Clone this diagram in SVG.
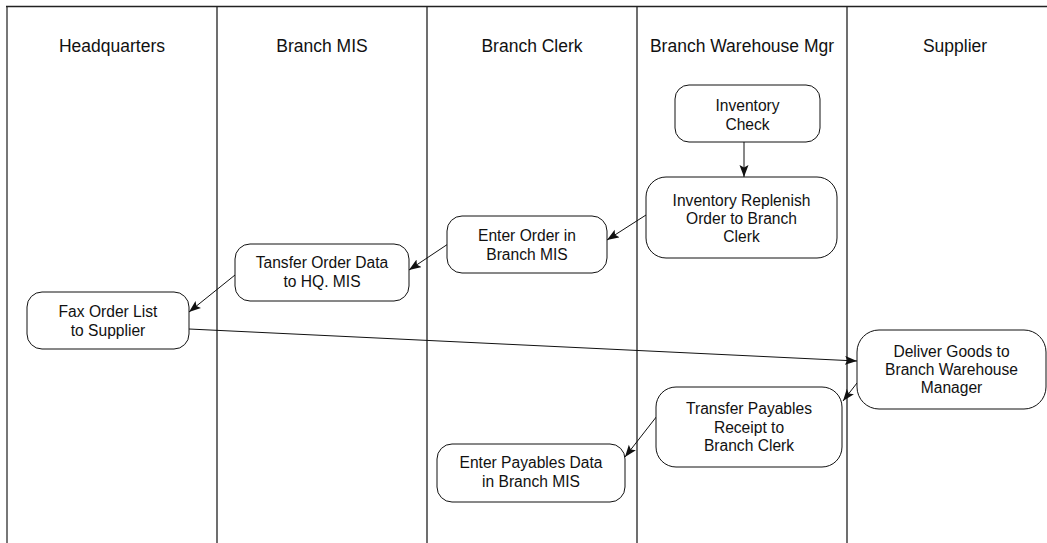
<svg xmlns="http://www.w3.org/2000/svg" width="1047" height="543" viewBox="0 0 1047 543">
  <style>
    .lane { stroke: #222; stroke-width: 1.3; fill: none; }
    .edge-left { stroke: #777; stroke-width: 2; fill: none; }
    .hdr { font-family: "Liberation Sans", Arial, sans-serif; font-size: 17.5px; fill: #111; text-anchor: middle; }
    .box { fill: #fff; stroke: #111; stroke-width: 1; }
    .lbl { font-family: "Liberation Sans", Arial, sans-serif; font-size: 15.6px; fill: #111; text-anchor: middle; }
    .edge { stroke: #111; stroke-width: 1; fill: none; marker-end: url(#arrow); }
  </style>
  <defs>
    <marker id="arrow" markerUnits="userSpaceOnUse" markerWidth="13" markerHeight="10" refX="12" refY="4.5" orient="auto">
      <path d="M0,0 L12,4.5 L0,9 L2.5,4.5 z" fill="#111"/>
    </marker>
  </defs>
  <rect width="1047" height="543" fill="#fff"/>

  <!-- swimlanes -->
  <g id="lanes">
    <path class="edge-left" d="M7,543 V6"/>
    <path class="lane" d="M6,6.5 H1047"/>
    <path class="lane" d="M217,6.5 V543 M427,6.5 V543 M637,6.5 V543 M847,6.5 V543"/>
    <text class="hdr" x="112" y="52">Headquarters</text>
    <text class="hdr" x="322" y="52">Branch MIS</text>
    <text class="hdr" x="532" y="52">Branch Clerk</text>
    <text class="hdr" x="742" y="52">Branch Warehouse Mgr</text>
    <text class="hdr" x="955" y="52">Supplier</text>
  </g>

  <!-- connectors -->
  <g id="connectors">
    <line class="edge" x1="744" y1="142" x2="744" y2="177"/>
    <line class="edge" x1="646" y1="215" x2="607" y2="240"/>
    <line class="edge" x1="448" y1="244" x2="409" y2="270"/>
    <line class="edge" x1="235" y1="275" x2="189" y2="312"/>
    <line class="edge" x1="189" y1="329" x2="857" y2="361"/>
    <line class="edge" x1="857" y1="383" x2="843" y2="401"/>
    <line class="edge" x1="657" y1="416" x2="625" y2="457"/>
  </g>

  <!-- process steps -->
  <g id="inventory-check">
    <rect class="box" x="675" y="85" width="145" height="57" rx="14"/>
    <text class="lbl" x="747.5" y="111">Inventory</text>
    <text class="lbl" x="747.5" y="129.5">Check</text>
  </g>
  <g id="replenish-order">
    <rect class="box" x="646" y="177" width="191" height="81" rx="20"/>
    <text class="lbl" x="741.5" y="205.7">Inventory Replenish</text>
    <text class="lbl" x="741.5" y="224">Order to Branch</text>
    <text class="lbl" x="741.5" y="242.3">Clerk</text>
  </g>
  <g id="enter-order">
    <rect class="box" x="447" y="216" width="160" height="57" rx="15"/>
    <text class="lbl" x="527" y="241">Enter Order in</text>
    <text class="lbl" x="527" y="260">Branch MIS</text>
  </g>
  <g id="transfer-order">
    <rect class="box" x="235" y="244" width="174" height="57" rx="15"/>
    <text class="lbl" x="322" y="268">Tansfer Order Data</text>
    <text class="lbl" x="322" y="287">to HQ. MIS</text>
  </g>
  <g id="fax-order">
    <rect class="box" x="27" y="292" width="162" height="57" rx="15"/>
    <text class="lbl" x="108" y="317">Fax Order List</text>
    <text class="lbl" x="108" y="336">to Supplier</text>
  </g>
  <g id="deliver-goods">
    <rect class="box" x="857" y="330" width="189" height="79" rx="22"/>
    <text class="lbl" x="951.5" y="357">Deliver Goods to</text>
    <text class="lbl" x="951.5" y="375">Branch Warehouse</text>
    <text class="lbl" x="951.5" y="393">Manager</text>
  </g>
  <g id="transfer-payables">
    <rect class="box" x="656" y="387" width="186" height="80" rx="20"/>
    <text class="lbl" x="749" y="414">Transfer Payables</text>
    <text class="lbl" x="749" y="432.5">Receipt to</text>
    <text class="lbl" x="749" y="451">Branch Clerk</text>
  </g>
  <g id="enter-payables">
    <rect class="box" x="437" y="444" width="188" height="58" rx="15"/>
    <text class="lbl" x="531" y="468">Enter Payables Data</text>
    <text class="lbl" x="531" y="487">in Branch MIS</text>
  </g>
</svg>
